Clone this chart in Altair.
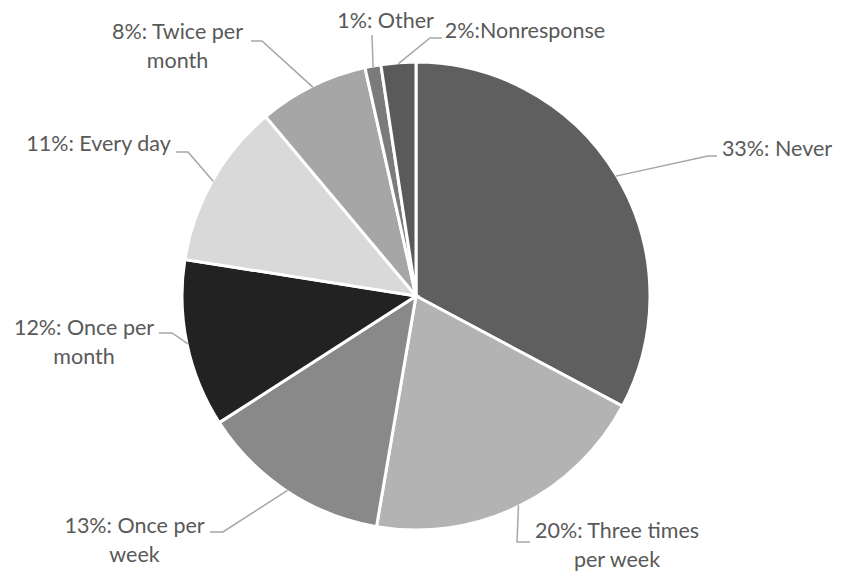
import math
import altair as alt
import pandas as pd

# ---- data ----
categories = ["Never", "Three times per week", "Once per week", "Once per month",
              "Every day", "Twice per month", "Other", "Nonresponse"]
values = [32.8, 19.9, 13.2, 11.6, 11.4, 7.6, 1.1, 2.4]
label_texts = ["33%: Never", "20%: Three times\nper week", "13%: Once per\nweek",
               "12%: Once per\nmonth", "11%: Every day", "8%: Twice per\nmonth",
               "1%: Other", "2%:Nonresponse"]
colors = ["#5f5f5f", "#b3b3b3", "#898989", "#222222", "#d9d9d9", "#a6a6a6",
          "#7b7b7b", "#5a5a5a"]

# ---- layout (page pixels) ----
MARGIN = 8
W, H = 827, 566
CX, CY, R = 416, 296, 234
LINE_H = 28.5
label_center = [(777, 150), (617, 532), (134.5, 527), (84, 329), (98.5, 145),
                (177.5, 33), (385.5, 22), (525, 32)]
elbow = [(708, 156), (517, 542), (223, 532), (172, 333), (188, 152),
         (262, 41), (372, 35), (430, 38)]
leader_end = [(717, 156), (530, 542), (210, 532), (159, 333), (176, 152),
              (251, 41), (372, 35), (442, 38)]

total = sum(values)
pie_df = pd.DataFrame({"category": categories, "value": values,
                       "idx": list(range(len(categories)))})

# leader lines
rows = []
cum = 0.0
for i, v in enumerate(values):
    mid = (cum + v / 2) / total
    cum += v
    a = 2 * math.pi * mid
    ax = CX + (R - 1) * math.sin(a)
    ay = CY - (R - 1) * math.cos(a)
    pts = [(ax, ay), elbow[i], leader_end[i]]
    for j, (px, py) in enumerate(pts):
        rows.append({"key": categories[i], "o": j, "x": px - MARGIN, "y": py - MARGIN})
lead_df = pd.DataFrame(rows)

# text lines
trows = []
for i, t in enumerate(label_texts):
    lx, ly = label_center[i]
    for k, line in enumerate(t.split("\n")):
        trows.append({"t": line, "x": lx - MARGIN, "y": ly + k * LINE_H - MARGIN})
text_df = pd.DataFrame(trows)

xs = alt.Scale(domain=[0, W], nice=False, zero=False)
ys = alt.Scale(domain=[0, H], nice=False, zero=False, reverse=True)

pie = alt.Chart(pie_df).mark_arc(outerRadius=R, stroke="white", strokeWidth=3).encode(
    theta=alt.Theta("value:Q", stack=True),
    order=alt.Order("idx:Q"),
    color=alt.Color("category:N", scale=alt.Scale(domain=categories, range=colors), legend=None),
    x=alt.value(CX - MARGIN),
    y=alt.value(CY - MARGIN),
)

leaders = alt.Chart(lead_df).mark_line(color="#a6a6a6", strokeWidth=1.5).encode(
    x=alt.X("x:Q", scale=xs, axis=None),
    y=alt.Y("y:Q", scale=ys, axis=None),
    detail="key:N",
    order="o:Q",
)

labels = alt.Chart(text_df).mark_text(
    font="Lato", fontSize=21.5, color="#595959",
    align="center", baseline="middle"
).encode(
    x=alt.X("x:Q", scale=xs, axis=None),
    y=alt.Y("y:Q", scale=ys, axis=None),
    text="t:N",
)

chart = alt.layer(pie, leaders, labels).properties(
    width=W, height=H, padding=0, autosize="none", background="white"
).configure_view(stroke=None)

chart.save("out.html", embed_options={"renderer": "svg", "actions": False})
